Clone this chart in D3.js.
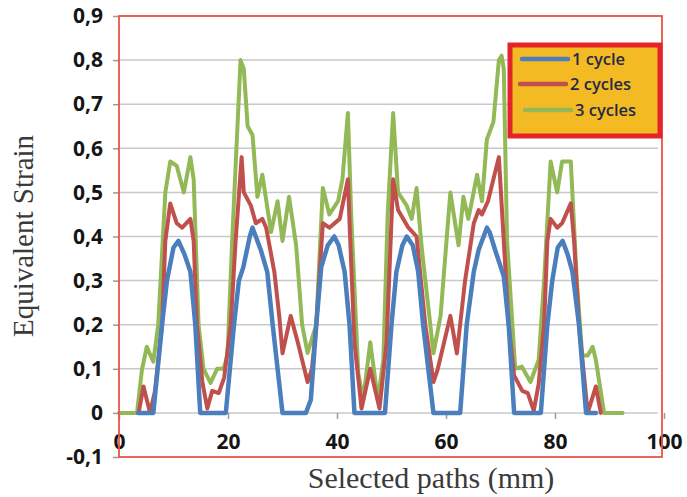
<!DOCTYPE html>
<html><head><meta charset="utf-8">
<script src="https://cdn.jsdelivr.net/npm/d3@7"></script>
<style>body{margin:0;background:#fff}svg{display:block}</style>
</head><body>
<svg id="c" width="687" height="497"></svg>
<script>
// ---- data ----
const seriesNames = ["1 cycle", "2 cycles", "3 cycles"];
const seriesColors = ["#4A7EBD", "#C0504D", "#93B956"];
const xTicks = [0, 20, 40, 60, 80, 100];
const yTicks = [-0.1, 0, 0.1, 0.2, 0.3, 0.4, 0.5, 0.6, 0.7, 0.8, 0.9];

const blueX = [3.5, 6.3, 7.9, 8.8, 10.0, 10.9, 12.0, 13.1, 14.0, 14.9, 19.6, 21.1, 22.0, 22.8, 24.0, 24.5, 26.0, 27.2, 28.2, 30.0, 34.3, 35.2, 36.2, 37.1, 38.3, 39.5, 40.3, 41.4, 42.3, 43.2, 48.8, 50.0, 50.9, 52.0, 52.8, 53.9, 54.9, 55.8, 57.7, 62.6, 63.8, 65.1, 66.0, 67.5, 68.0, 69.0, 70.6, 71.5, 72.5, 77.4, 78.6, 79.5, 80.5, 81.4, 82.3, 83.2, 84.4, 85.7, 87.5];
const blueY = [0, 0, 0.2, 0.3, 0.375, 0.39, 0.36, 0.32, 0.2, 0, 0, 0.2, 0.3, 0.33, 0.4, 0.42, 0.37, 0.32, 0.2, 0, 0, 0.03, 0.2, 0.33, 0.38, 0.4, 0.38, 0.32, 0.2, 0, 0, 0.2, 0.32, 0.38, 0.4, 0.38, 0.32, 0.2, 0, 0, 0.2, 0.32, 0.37, 0.42, 0.41, 0.37, 0.31, 0.2, 0, 0, 0.2, 0.3, 0.375, 0.39, 0.36, 0.32, 0.2, 0, 0];

const redX = [3.6, 4.5, 5.7, 6.6, 7.9, 8.5, 9.4, 10.6, 11.6, 13.1, 13.7, 14.3, 15.3, 16.2, 17.1, 18.3, 19.3, 20.5, 21.4, 22.5, 22.9, 24.2, 25.1, 26.3, 27.0, 28.5, 29.4, 30.0, 31.5, 32.8, 34.6, 35.4, 36.2, 37.4, 38.6, 40.5, 42.0, 42.4, 43.2, 44.5, 46.1, 47.8, 49.1, 50.3, 51.2, 53.1, 54.6, 56.2, 57.7, 58.5, 60.8, 62.0, 63.5, 65.1, 66.0, 66.6, 67.7, 69.7, 70.6, 71.5, 72.5, 74.0, 75.0, 76.1, 77.0, 78.0, 78.6, 79.2, 80.4, 81.3, 82.9, 83.5, 84.4, 86.0, 87.5, 88.4];
const redY = [0, 0.06, 0, 0.05, 0.2, 0.39, 0.475, 0.43, 0.42, 0.44, 0.39, 0.2, 0.07, 0.01, 0.05, 0.045, 0.08, 0.2, 0.39, 0.58, 0.5, 0.47, 0.43, 0.44, 0.42, 0.32, 0.22, 0.135, 0.22, 0.16, 0.07, 0.1, 0.2, 0.43, 0.42, 0.44, 0.53, 0.4, 0.16, 0.01, 0.1, 0.01, 0.16, 0.53, 0.46, 0.42, 0.4, 0.2, 0.07, 0.1, 0.22, 0.135, 0.3, 0.43, 0.46, 0.45, 0.48, 0.58, 0.39, 0.2, 0.085, 0.05, 0.045, 0.005, 0.065, 0.2, 0.39, 0.44, 0.42, 0.43, 0.475, 0.39, 0.2, 0, 0.06, 0];

const greenX = [0, 3.3, 4.2, 5.1, 6.3, 7.2, 8.5, 9.4, 10.6, 11.9, 13.1, 13.7, 14.6, 15.5, 16.8, 18.0, 19.2, 19.9, 20.8, 22.3, 22.9, 23.6, 24.5, 25.4, 26.3, 27.9, 29.1, 30.0, 31.2, 32.5, 33.6, 34.6, 36.2, 37.4, 38.6, 40.2, 41.0, 42.0, 42.6, 43.9, 44.8, 46.1, 47.5, 48.5, 49.3, 50.3, 51.2, 52.8, 53.7, 54.6, 55.5, 57.7, 59.0, 60.8, 62.3, 63.2, 64.1, 65.7, 66.6, 67.5, 68.7, 69.7, 70.2, 70.6, 71.2, 72.7, 73.9, 75.5, 77.0, 78.0, 79.2, 80.4, 81.3, 82.9, 84.0, 85.0, 86.0, 86.9, 87.5, 89.0, 92.4];
const greenY = [0, 0, 0.097, 0.15, 0.116, 0.2, 0.5, 0.57, 0.56, 0.5, 0.58, 0.53, 0.2, 0.1, 0.068, 0.1, 0.1, 0.13, 0.4, 0.8, 0.78, 0.65, 0.63, 0.49, 0.54, 0.41, 0.48, 0.39, 0.49, 0.38, 0.2, 0.136, 0.2, 0.51, 0.45, 0.48, 0.53, 0.68, 0.45, 0.09, 0.03, 0.16, 0.03, 0.12, 0.45, 0.68, 0.5, 0.47, 0.44, 0.51, 0.38, 0.135, 0.22, 0.5, 0.38, 0.49, 0.44, 0.54, 0.48, 0.62, 0.66, 0.8, 0.81, 0.78, 0.39, 0.1, 0.105, 0.07, 0.12, 0.3, 0.57, 0.5, 0.57, 0.57, 0.3, 0.13, 0.13, 0.15, 0.12, 0, 0];

// ---- chart ----
const svg = d3.select("#c");
const x = d3.scaleLinear().domain([0, 100]).range([119, 664]);
const y = d3.scaleLinear().domain([-0.1, 0.9]).range([457, 16]);
const fmt = d => d === 0 ? "0" : d3.format(".1f")(d).replace(".", ",").replace("\u2212", "-");

// gridlines
svg.append("g").selectAll("line").data(yTicks.filter(t => t >= 0)).join("line")
  .attr("x1", x(0)).attr("x2", 658).attr("y1", d => y(d)).attr("y2", d => y(d))
  .attr("stroke", "#C8C8C8").attr("stroke-width", 1.5);

// y axis
const ya = svg.append("g").attr("transform", `translate(${x(0)},0)`)
  .call(d3.axisLeft(y).tickValues(yTicks).tickFormat(fmt).tickSize(6).tickPadding(10));
ya.select(".domain").remove();
ya.selectAll("line").attr("stroke", "#9a9a9a").attr("stroke-width", 1.5);
ya.selectAll("text").attr("font-family", "'Open Sans', sans-serif").attr("font-weight", 700)
  .attr("font-size", 21).attr("fill", "#151515");

// x axis
const xa = svg.append("g").attr("transform", `translate(0,${y(0)})`)
  .call(d3.axisBottom(x).tickValues(xTicks).tickFormat(d3.format("d")).tickSize(6));
xa.select(".domain").remove();
xa.selectAll("line").attr("stroke", "#9a9a9a").attr("stroke-width", 1.5);
xa.selectAll("text").attr("y", 36).attr("dy", 0).attr("font-family", "'Open Sans', sans-serif")
  .attr("font-weight", 700).attr("font-size", 21).attr("fill", "#151515");

// series
const sets = [[blueX, blueY], [redX, redY], [greenX, greenY]];
const line = d3.line().x(d => x(d[0])).y(d => y(d[1]));
const widths = [4.5, 4, 4];
[2, 1, 0].forEach(i => {
  const pts = sets[i][0].map((v, k) => [v, sets[i][1][k]]);
  svg.append("path").datum(pts).attr("d", line).attr("fill", "none")
    .attr("stroke", seriesColors[i]).attr("stroke-width", widths[i])
    .attr("stroke-linejoin", "round").attr("stroke-linecap", "round");
});

// plot border
svg.append("rect").attr("x", x(0)).attr("y", y(0.9)).attr("width", 662 - x(0)).attr("height", y(-0.1) - y(0.9))
  .attr("fill", "none").attr("stroke", "#EB5446").attr("stroke-width", 1.8);

// legend
const lg = svg.append("g");
lg.append("rect").attr("x", 510).attr("y", 45).attr("width", 150).attr("height", 91)
  .attr("fill", "#F4BA24").attr("stroke", "#E3242B").attr("stroke-width", 5);
seriesNames.forEach((n, i) => {
  const yy = [59, 84, 110][i];
  const x0 = [522, 520, 525][i];
  lg.append("line").attr("x1", x0).attr("x2", x0 + 46).attr("y1", yy).attr("y2", yy)
    .attr("stroke", seriesColors[i]).attr("stroke-width", 4.5).attr("stroke-linecap", "round");
  lg.append("text").attr("x", x0 + 50).attr("y", yy).attr("dy", "0.35em")
    .attr("font-family", "'Open Sans', sans-serif").attr("font-weight", 600).attr("font-size", 16.5)
    .attr("fill", "#232B45").text(n);
});

// axis titles
svg.append("text").attr("transform", "translate(33,236) rotate(-90)").attr("text-anchor", "middle")
  .attr("font-family", "'Liberation Serif', 'Times New Roman', serif").attr("font-size", 29)
  .attr("fill", "#3a3a3a").text("Equivalent Strain");
svg.append("text").attr("x", 431).attr("y", 488).attr("text-anchor", "middle")
  .attr("font-family", "'Liberation Serif', 'Times New Roman', serif").attr("font-size", 30)
  .attr("fill", "#3a3a3a").text("Selected paths (mm)");
</script>
</body></html>
